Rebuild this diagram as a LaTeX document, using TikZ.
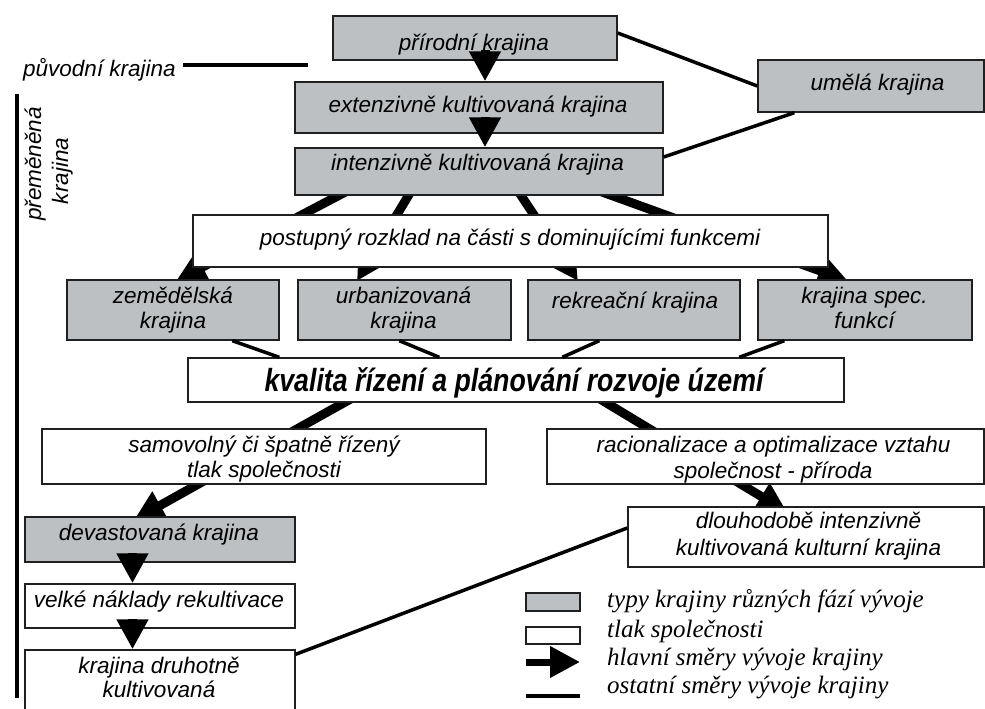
\documentclass[tikz,border=0pt]{standalone}
\usepackage{fontspec}
\setmainfont{Liberation Sans}
\newfontfamily\tms{Liberation Serif}
\usetikzlibrary{arrows.meta,calc}
\definecolor{boxgrey}{RGB}{188,192,194}
\definecolor{edge}{RGB}{32,32,32}
\begin{document}
\begin{tikzpicture}[x=1pt,y=-1pt,
  gbox/.style={draw=edge,line width=1.4pt,fill=boxgrey,inner sep=0pt},
  wbox/.style={draw=edge,line width=1.4pt,fill=white,inner sep=0pt},
  tx/.style={inner sep=0pt,anchor=base,font=\fontsize{22.5}{25}\selectfont\itshape},
  lg/.style={inner sep=0pt,anchor=base west,font=\tms\fontsize{25}{28}\selectfont\itshape},
  mainarrow/.style={line width=9pt,-{Triangle[length=30pt,width=30pt]}},
  thin/.style={line width=3.5pt},
]
\useasboundingbox (0,0) rectangle (985,709);
\clip (0,0) rectangle (985,709);

% arrows running behind the boxes
\coordinate (a1s) at (353,188); \coordinate (a1e) at (176,281);
\coordinate (a2s) at (413,188); \coordinate (a2e) at (357,281);
\coordinate (a3s) at (516,188); \coordinate (a3e) at (578,281);
\coordinate (a4s) at (591,188); \coordinate (a4e) at (848,281);
\coordinate (a5s) at (356,396); \coordinate (a5e) at (134,520);
\coordinate (a6s) at (595,396); \coordinate (a6e) at (787,512);
\draw[mainarrow] (a1s) -- (a1e);
\draw[mainarrow] (a2s) -- (a2e);
\draw[mainarrow] (a3s) -- (a3e);
\draw[mainarrow] (a4s) -- (a4e);
\draw[mainarrow] (a5s) -- (a5e);
\draw[mainarrow] (a6s) -- (a6e);

% boxes
\node[gbox,minimum width=284,minimum height=44] (P) at (475,38) {};
\node[gbox,minimum width=226,minimum height=52] (U) at (871,86) {};
\node[gbox,minimum width=368,minimum height=51] (E) at (479,107.5) {};
\node[gbox,minimum width=368,minimum height=47] (I) at (479,171.5) {};
\node[wbox,minimum width=635,minimum height=52] (R) at (510.5,241) {};
\node[gbox,minimum width=212,minimum height=60] (Z) at (173,310) {};
\node[gbox,minimum width=213,minimum height=60] (Ub) at (404.5,310) {};
\node[gbox,minimum width=212,minimum height=60] (Rk) at (634,310) {};
\node[gbox,minimum width=214,minimum height=60] (S) at (865,310) {};
\node[wbox,minimum width=656,minimum height=44] (K) at (516,380) {};
\node[wbox,minimum width=444,minimum height=55] (Sv) at (264,456.5) {};
\node[wbox,minimum width=437,minimum height=55] (Ra) at (765.5,456.5) {};
\node[wbox,minimum width=356,minimum height=60] (D) at (806,537) {};
\node[gbox,minimum width=270,minimum height=45] (Dv) at (160,539.5) {};
\node[wbox,minimum width=270,minimum height=44] (V) at (160,606) {};
\node[wbox,minimum width=270,minimum height=66] (Kd) at (160,683) {};

% thin connectors
\draw[thin] ($(P.east)+(0,-5)$) -- (U.west);
\draw[thin] ($(I.east)+(0,-14.5)$) -- ($(U.south west)+(37,0)$);
\draw[thin] ($(Z.south west)+(166,0)$) -- ($(K.north west)+(92,0)$);
\draw[thin] ($(Ub.south west)+(102,0)$) -- ($(K.north west)+(252,0)$);
\draw[thin] ($(Rk.south west)+(72,0)$) -- ($(K.north west)+(375,0)$);
\draw[thin] ($(S.south west)+(27,0)$) -- ($(K.north west)+(552,0)$);
\draw[thin] ($(D.west)+(0,-9)$) -- ($(Kd.north east)+(0,5)$);

% short main arrows drawn over the boxes
\coordinate (pe) at (485,50.5);
\coordinate (ei) at (485,117);
\coordinate (dvv) at (132.5,553);
\coordinate (vkd) at (132.5,619);
\draw[mainarrow] (pe) -- (pe |- E.north);
\draw[mainarrow] (ei) -- (ei |- I.north);
\draw[mainarrow] (dvv) -- (dvv |- V.north);
\draw[mainarrow] (vkd) -- (vkd |- Kd.north);

% texts
\node[tx] (Pt) at (474,51) {přírodní krajina};
\node[tx] (Ut) at (877.5,90) {umělá krajina};
\node[tx] (Et) at (478,112) {extenzivně kultivovaná krajina};
\node[tx] (It) at (477.5,170) {intenzivně kultivovaná krajina};
\node[tx] (Rt) at (510,245) {postupný rozklad na části s dominujícími funkcemi};
\node[tx] (Zt1) at (173,303) {zemědělská};
\node[tx] (Zt2) at (173,328) {krajina};
\node[tx] (Ubt1) at (403.5,303) {urbanizovaná};
\node[tx] (Ubt2) at (403.5,328) {krajina};
\node[tx] (Rkt) at (635,308) {rekreační krajina};
\node[tx] (St1) at (864.5,303) {krajina spec.};
\node[tx] (St2) at (864.5,328) {funkcí};
\node[inner sep=0pt,anchor=base] (Kt) at (514,391)
  {\scalebox{0.835}[1]{\fontsize{32}{34}\selectfont\bfseries\itshape kvalita řízení a plánování rozvoje území}};
\node[tx] (Svt1) at (264,452) {samovolný či špatně řízený};
\node[tx] (Svt2) at (264,477) {tlak společnosti};
\node[tx] (Rat1) at (773.5,452) {racionalizace a optimalizace vztahu};
\node[tx] (Rat2) at (773,478) {společnost - příroda};
\node[tx] (Dt1) at (808.5,528) {dlouhodobě intenzivně};
\node[tx] (Dt2) at (808.5,555) {kultivovaná kulturní krajina};
\node[tx] (Dvt) at (159,540) {devastovaná krajina};
\node[tx] (Vt) at (159,607) {velké náklady rekultivace};
\node[tx] (Kdt1) at (159,673) {krajina druhotně};
\node[tx] (Kdt2) at (159,697) {kultivovaná};

% left side
\node[tx] (PKt) at (99.5,77) {původní krajina};
\coordinate (pkA) at (183,65); \coordinate (pkB) at (308,65);
\draw[line width=3.5pt] (pkA) -- (pkB);
\coordinate (vTop) at (17,94); \coordinate (vBot) at (17,698);
\draw[line width=3.5pt] (vTop) -- (vBot);
\node[tx,rotate=90] (PMt1) at (41,164) {přeměněná};
\node[tx,rotate=90] (PMt2) at (68,171) {krajina};

% legend
\node[gbox,minimum width=54,minimum height=18] (LG1) at (553,602) {};
\node[wbox,minimum width=54,minimum height=17] (LG2) at (553,635.5) {};
\coordinate (lga) at (526,662); \coordinate (lgb) at (580,662);
\draw[line width=7pt,-{Triangle[length=30pt,width=30pt]}] (lga) -- (lgb);
\coordinate (lgc) at (526,696); \coordinate (lgd) at (580,696);
\draw[line width=4pt] (lgc) -- (lgd);
\node[lg] (L1) at (607,607) {typy krajiny různých fází vývoje};
\node[lg] (L2) at (607,637) {tlak společnosti};
\node[lg] (L3) at (607,665) {hlavní směry vývoje krajiny};
\node[lg] (L4) at (607,693) {ostatní směry vývoje krajiny};
\end{tikzpicture}
\end{document}
